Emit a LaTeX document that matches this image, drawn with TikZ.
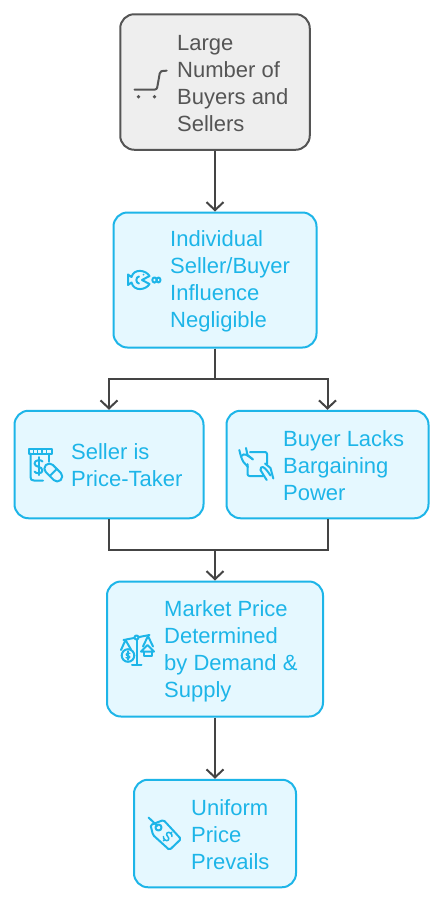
\documentclass[tikz,border=0pt]{standalone}
\usepackage{fontspec}
\setmainfont{Liberation Sans}
\usetikzlibrary{arrows.meta}
\definecolor{cyanline}{HTML}{1DB5E8}
\definecolor{cyanfill}{HTML}{E5F8FF}
\definecolor{greyline}{HTML}{555555}
\definecolor{greyfill}{HTML}{EEEEEE}
\definecolor{linkc}{HTML}{444444}
\tikzset{
  x=1pt,y=-1pt,
  boxbase/.style={draw,line width=2pt,rounded corners=14pt,inner sep=0pt},
  cyanbox/.style={boxbase,draw=cyanline,fill=cyanfill},
  greybox/.style={boxbase,draw=greyline,fill=greyfill},
  lab/.style={anchor=west,align=left,inner sep=0pt,font=\fontsize{22}{27}\selectfont},
  cyanlab/.style={lab,text=cyanline},
  greylab/.style={lab,text=greyline},
  link/.style={draw=linkc,line width=2pt,-{Straight Barb[length=8pt,width=17pt,line width=2pt]}},
  linkplain/.style={draw=linkc,line width=2pt},
  cyanicon/.style={draw=cyanline,line width=2pt,line cap=round,line join=round},
  greyicon/.style={draw=greyline,line width=2pt,line cap=round,line join=round},
}
\begin{document}
\begin{tikzpicture}
\useasboundingbox[fill=white] (0,0) rectangle (444,903);
% boxes
\node[greybox,minimum width=189.5pt,minimum height=135.5pt] (a) at (215,82) {};
\node[cyanbox,minimum width=203pt,minimum height=135pt] (b) at (215,280) {};
\node[cyanbox,minimum width=189pt,minimum height=107.5pt] (c) at (109,464.5) {};
\node[cyanbox,minimum width=202pt,minimum height=107.5pt] (d) at (327.5,464.5) {};
\node[cyanbox,minimum width=216pt,minimum height=135pt] (e) at (215,649) {};
\node[cyanbox,minimum width=162pt,minimum height=107.5pt] (f) at (215,833.5) {};
% labels
\node[greylab] (ta) at (177,83.5) {Large\\Number of\\Buyers and\\Sellers};
\node[cyanlab] (tb) at (170,281.5) {Individual\\Seller/Buyer\\Influence\\Negligible};
\node[cyanlab] (tc) at (71,465) {Seller is\\Price-Taker};
\node[cyanlab] (td) at (283,466) {Buyer Lacks\\Bargaining\\Power};
\node[cyanlab] (te) at (164,651.5) {Market Price\\Determined\\by Demand \&\\Supply};
\node[cyanlab] (tf) at (191,835) {Uniform\\Price\\Prevails};
% connectors
\coordinate (split) at (215,379);
\coordinate (merge) at (215,550);
\draw[link] (a.south) -- (b.north);
\draw[link] (b.south) -- (split) -| (c.north);
\draw[link] (b.south) -- (split) -| (d.north);
\draw[linkplain] (c.south) |- (merge);
\draw[linkplain] (d.south) |- (merge);
\draw[link] (merge) -- (e.north);
\draw[link] (e.south) -- (f.north);
% cart icon
\draw[greyicon] (134.5,89.5) -- (155,89.5) .. controls (156.5,89.5) and (157,88.5) .. (157.3,87) -- (159.7,73.5) .. controls (160,71.5) and (161,70.7) .. (166.7,70.7);
\fill[greyline] (138.5,96.7) circle (1.9pt) (154.5,96.7) circle (1.9pt);
% fish icon
\begin{scope}[cyanicon]
\draw (149.5,276) .. controls (146,270) and (134,268) .. (131.5,277) -- (128,274.5) -- (128,285) -- (131.5,282.5)
  .. controls (134,292) and (146,290) .. (149.5,284) -- (142,280) -- cycle;
\draw (139,276.5) .. controls (135.5,276.5) and (135.5,283.5) .. (139,283.5);
\fill[cyanline] (143.5,274.5) circle (1pt);
\draw (154.5,280) ellipse (2.2pt and 2.6pt);
\draw (158.5,280) ellipse (2pt and 2.4pt);
\end{scope}
% pill jar icon
\begin{scope}[cyanicon]
\draw (29,448.7) rectangle (51.5,453.5);
\draw[line width=1.5pt] (33.5,449.5) -- (33.5,452.5) (37.7,449.5) -- (37.7,452.5) (42,449.5) -- (42,452.5) (46.5,449.5) -- (46.5,452.5);
\draw (30.5,453.5) -- (30.5,477) .. controls (30.5,479.5) and (31.5,480.5) .. (34,480.5) -- (43,480.5);
\draw (49.3,453.5) -- (49.3,461.5);
\draw (42.5,461.5) .. controls (41.5,459.5) and (34.5,459.5) .. (34.5,463.5) .. controls (34.5,467.5) and (42.5,466) .. (42.5,470.5)
  .. controls (42.5,474) and (35.5,474) .. (34.5,471.5);
\draw (38.5,457) -- (38.5,475);
\begin{scope}[shift={(53.3,472.5)},rotate=-45]
\draw[rounded corners=4.8pt] (-10.5,-5) rectangle (10.5,5);
\draw (0,-5) -- (0,5);
\end{scope}
\end{scope}
% hands icon
\begin{scope}[cyanicon]
\draw[rounded corners=2pt] (250,452) -- (267,452) -- (267,464);
\draw[rounded corners=2pt] (247.5,464) -- (247.5,476) -- (263,476);
\draw (239.3,450) .. controls (240.5,455) and (241.5,459) .. (243.5,462) -- (248,467);
\draw (246,448) -- (247.5,455) -- (253,459.5);
\draw (241.5,456) .. controls (244,452.5) and (247,455) .. (252.5,459);
\draw (273.3,478.5) -- (270.5,468) -- (265,463.5);
\draw (266.7,480) -- (263.5,475) -- (260.5,470);
\draw (260.5,470) .. controls (260.5,465) and (264,465.5) .. (270.5,475.5);
\end{scope}
% scale icon
\begin{scope}[cyanicon]
\draw (123.5,640) -- (149.5,635);
\draw (136.5,638) -- (136.5,664.5) (132,664.5) -- (141.5,664.5);
\fill[cyanfill] (136.5,637.5) circle (2pt);
\draw (136.5,637.5) circle (2pt);
\draw (125.5,640) -- (121,650) (125.5,640) -- (131,649.5);
\draw (128,655.5) circle (6.3pt);
\draw[line width=1.2pt] (130,653.5) .. controls (129,652) and (126,652.5) .. (126,654.5) .. controls (126,656) and (130,655.5) .. (130,657) .. controls (130,659) and (127,659) .. (126,657.5);
\draw[line width=1.2pt] (128,651) -- (128,660);
\draw (148,636) -- (143,646.5) (148,636) -- (153,646.5);
\draw (141,651.5) -- (147.5,645) -- (154,651.5) -- cycle;
\draw (143.5,651.5) -- (143.5,656) -- (151.5,656) -- (151.5,651.5);
\end{scope}
% tag icon
\begin{scope}[cyanicon]
\draw (148.5,817.5) -- (157.5,826);
\draw[rounded corners=1.5pt] (150.5,825) -- (163.5,820) -- (181,839) -- (169.5,850) -- (153,835) -- cycle;
\draw (158.5,827.5) circle (3pt);
\begin{scope}[shift={(167.7,836.5)},rotate=-45]
\draw[line width=1.5pt] (3,-3) .. controls (2,-5) and (-3,-5) .. (-3,-2) .. controls (-3,1) and (3,-1) .. (3,2) .. controls (3,5) and (-2,5) .. (-3,3);
\draw[line width=1.5pt] (0,-6) -- (0,-4.5) (0,4.5) -- (0,6);
\end{scope}
\end{scope}
\end{tikzpicture}
\end{document}
